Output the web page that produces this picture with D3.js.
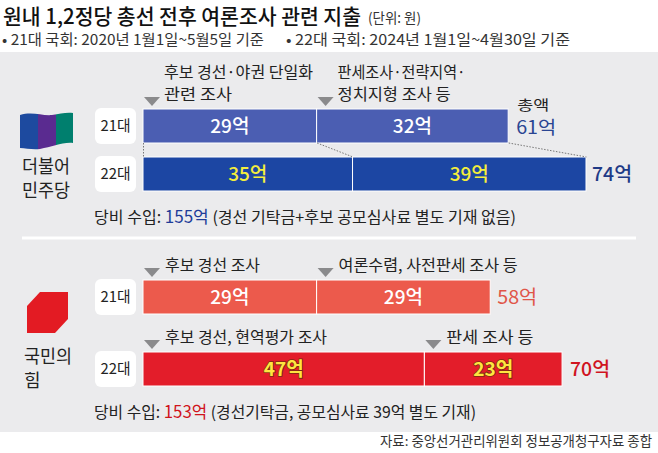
<!DOCTYPE html>
<html>
<head>
<meta charset="utf-8">
<script src="https://cdn.jsdelivr.net/npm/d3@7"></script>
<style>
  body { margin: 0; background: #fff; }
  text { font-family: "Noto Sans CJK KR", "Noto Sans", sans-serif; }
</style>
</head>
<body>
<div id="chart"></div>
<script>
// data
var terms = ["21대", "22대"];
var dpSegments = [[29, 32], [35, 39]];
var pppSegments = [[29, 29], [47, 23]];
var dpTotals = [61, 74];
var pppTotals = [58, 70];
var dpNotes = [["후보 경선·야권 단일화", "관련 조사"], ["판세조사·전략지역·", "정치지형 조사 등"]];
var pppNotes21 = ["후보 경선 조사", "여론수렴, 사전판세 조사 등"];
var pppNotes22 = ["후보 경선, 현역평가 조사", "판세 조사 등"];
var partyIncome = [155, 153];
var incomeNotes = ["(경선 기탁금+후보 공모심사료 별도 기재 없음)", "(경선기탁금, 공모심사료 39억 별도 기재)"];

var width = 658, height = 453;

var svg = d3.select("#chart")
  .append("svg")
  .attr("width", width)
  .attr("height", height);

// x scale for all bars (억 원)
var x = d3.scaleLinear().domain([0, 74]).range([143, 586]);

// row positions
var rows = ["dp21", "dp22", "ppp21", "ppp22"];
var y = d3.scaleOrdinal().domain(rows).range([109, 157, 280, 352]);
var barH = 34;

var colors = { dp21: "#4b5eb2", dp22: "#1c46a3", ppp21: "#ec5a4c", ppp22: "#e31d2a" };

// little helper for text
function txt(g, px, py, str, o) {
  o = o || {};
  var t = g.append("text")
    .attr("x", px).attr("y", py)
    .style("font-size", (o.size || 15) + "px")
    .style("fill", o.fill || "#222")
    .style("font-weight", o.weight || 400)
    .attr("text-anchor", o.anchor || "start")
    .text(str);
  if (o.w) t.attr("textLength", o.w).attr("lengthAdjust", "spacingAndGlyphs");
  return t;
}

// title
txt(svg, 3, 24, "원내 1,2정당 총선 전후 여론조사 관련 지출", { size: 21, weight: 500, fill: "#111", w: 358 });
txt(svg, 368, 23, "(단위: 원)", { size: 14, fill: "#333", w: 53 });
txt(svg, 2, 45, "• 21대 국회: 2020년 1월1일~5월5일 기준", { size: 15, fill: "#333", w: 262 });
txt(svg, 286, 45, "• 22대 국회: 2024년 1월1일~4월30일 기준", { size: 15, fill: "#333", w: 284 });

// panel
svg.append("rect").attr("x", 0).attr("y", 52).attr("width", width).attr("height", 380).attr("fill", "#ebebed");
svg.append("line").attr("x1", 22).attr("x2", 636).attr("y1", 238).attr("y2", 238)
  .attr("stroke", "#fff").attr("stroke-width", 3);

// row label boxes
rows.forEach(function(r, i) {
  svg.append("rect")
    .attr("x", 95).attr("y", y(r) - 1).attr("width", 41).attr("height", barH + 2)
    .attr("rx", 6).attr("fill", "#fff");
  txt(svg, 115.5, y(r) + barH / 2 + 5, terms[i % 2], { size: 15, anchor: "middle", fill: "#222", w: 30 });
});

// stacked bars
function drawBars(key, segs, valueColor, outline) {
  var start = 0;
  var data = segs.map(function(v) { var d = { v: v, x0: start }; start += v; return d; });
  var g = svg.append("g");
  g.selectAll("rect").data(data).enter().append("rect")
    .attr("x", function(d) { return x(d.x0); })
    .attr("y", y(key))
    .attr("width", function(d) { return x(d.x0 + d.v) - x(d.x0); })
    .attr("height", barH)
    .attr("fill", colors[key])
    .attr("stroke", "#fff").attr("stroke-width", 1);
  g.selectAll("text").data(data).enter().append("text")
    .attr("x", function(d) { return (x(d.x0) + x(d.x0 + d.v)) / 2; })
    .attr("y", y(key) + barH / 2 + 7)
    .attr("text-anchor", "middle")
    .style("font-size", "19px")
    .style("font-weight", outline ? 700 : 500)
    .style("fill", valueColor)
    .style("stroke", outline ? "#7a2c10" : "none")
    .style("stroke-width", outline ? 1.6 : 0)
    .style("paint-order", "stroke")
    .text(function(d) { return d.v + "억"; });
  return data;
}

var dp21 = drawBars("dp21", dpSegments[0], "#fff", false);
var dp22 = drawBars("dp22", dpSegments[1], "#f4ee3c", false);
var ppp21 = drawBars("ppp21", pppSegments[0], "#fff", false);
var ppp22 = drawBars("ppp22", pppSegments[1], "#ffe640", true);

// dotted connectors between 21대 and 22대 (민주당)
var conn = [[0, 0], [dpSegments[0][0], dpSegments[1][0]], [dpTotals[0], dpTotals[1]]];
svg.selectAll(".conn").data(conn).enter().append("line")
  .attr("x1", function(d) { return x(d[0]) + 0.5; })
  .attr("x2", function(d) { return x(d[1]) + 0.5; })
  .attr("y1", y("dp21") + barH)
  .attr("y2", y("dp22"))
  .attr("stroke", "#777").attr("stroke-width", 1).attr("stroke-dasharray", "1.5,1.5");

// annotation markers
function marker(px, barTop) {
  svg.append("path")
    .attr("d", "M" + (px + 1) + "," + (barTop - 12) + "l16,0l-8,9z")
    .attr("fill", "#8a8a8c");
}
dp21.forEach(function(d) { marker(x(d.x0), y("dp21")); });
ppp21.forEach(function(d) { marker(x(d.x0), y("ppp21")); });
ppp22.forEach(function(d) { marker(x(d.x0), y("ppp22")); });

// annotation texts
var dpW = [[149, 68], [128, 113]];
dp21.forEach(function(d, i) {
  txt(svg, x(d.x0) + 21, y("dp21") - 31, dpNotes[i][0], { size: 16, w: dpW[i][0] });
  txt(svg, x(d.x0) + 21, y("dp21") - 9, dpNotes[i][1], { size: 16, w: dpW[i][1] });
});
var p21W = [95, 179];
ppp21.forEach(function(d, i) {
  txt(svg, x(d.x0) + 22, y("ppp21") - 9, pppNotes21[i], { size: 16, w: p21W[i] });
});
var p22W = [162, 87];
ppp22.forEach(function(d, i) {
  txt(svg, x(d.x0) + 22, y("ppp22") - 9, pppNotes22[i], { size: 16, w: p22W[i] });
});

// totals
txt(svg, x(dpTotals[0]) + 25, y("dp21") + 1, "총액", { size: 14, anchor: "middle", fill: "#222", w: 32 });
txt(svg, x(dpTotals[0]) + 8, y("dp21") + 25, dpTotals[0] + "억", { size: 18, fill: "#2a4592", w: 40 });
txt(svg, x(dpTotals[1]) + 6, y("dp22") + barH / 2 + 7, dpTotals[1] + "억", { size: 19, fill: "#1f3a86", weight: 500, w: 40 });
txt(svg, x(pppTotals[0]) + 7, y("ppp21") + barH / 2 + 7, pppTotals[0] + "억", { size: 19, fill: "#e05548", w: 40 });
txt(svg, x(pppTotals[1]) + 8, y("ppp22") + barH / 2 + 7, pppTotals[1] + "억", { size: 19, fill: "#d0141f", weight: 500, w: 40 });

// party income lines
var incomeY = [223, 418];
var incomeColor = ["#1f3d99", "#d0141c"];
var incomeW = [422, 382];
partyIncome.forEach(function(v, i) {
  var t = svg.append("text")
    .attr("x", 94).attr("y", incomeY[i])
    .style("font-size", "16px").style("fill", "#222")
    .attr("textLength", incomeW[i]).attr("lengthAdjust", "spacingAndGlyphs");
  t.append("tspan").text("당비 수입: ");
  t.append("tspan").style("fill", incomeColor[i]).style("font-size", "17px").text(v + "억");
  t.append("tspan").text(" " + incomeNotes[i]);
});

// logos
var dpLogo = svg.append("g");
var stripes = ["#1d4a9f", "#5a2b90", "#007f6e"];
var clipId = "flag";
svg.append("clipPath").attr("id", clipId).append("path")
  .attr("d", "M20,115 C32,111 42,116 52,115 C60,114 66,112 73,113 L73,143 C62,142 52,147 40,149 C32,150 26,148 20,148 Z");
stripes.forEach(function(c, i) {
  dpLogo.append("rect").attr("x", 20 + i * 18).attr("y", 108).attr("width", 18).attr("height", 44)
    .attr("fill", c).attr("clip-path", "url(#" + clipId + ")");
});
txt(svg, 46, 173, "더불어", { size: 18, anchor: "middle", fill: "#222", w: 48 });
txt(svg, 46, 197, "민주당", { size: 18, anchor: "middle", fill: "#222", w: 48 });

svg.append("path")
  .attr("d", "M40,292 L68,292 L68,319 L55,333 L27,333 L27,306 Z")
  .attr("fill", "#e31b23");
txt(svg, 24, 363, "국민의", { size: 18, fill: "#222", w: 48 });
txt(svg, 24, 387, "힘", { size: 18, fill: "#222" });

// source
txt(svg, 652, 446, "자료: 중앙선거관리위원회 정보공개청구자료 종합", { size: 13.5, anchor: "end", fill: "#333", w: 272 });
</script>
</body>
</html>
